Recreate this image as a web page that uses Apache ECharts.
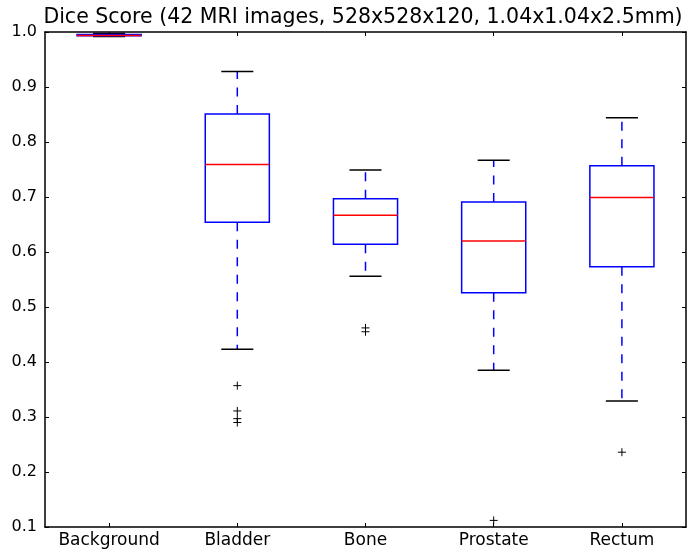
<!DOCTYPE html>
<html>
<head>
<meta charset="utf-8">
<script src="https://cdn.jsdelivr.net/npm/echarts@6/dist/echarts.min.js"></script>
<style>
  html, body { margin: 0; padding: 0; background: #fff; }
  #chart { width: 688px; height: 554px; }
</style>
</head>
<body>
<div id="chart"></div>
<script>
// Dice score distribution per structure
const categories = ['Background', 'Bladder', 'Bone', 'Prostate', 'Rectum'];
const whiskerLow  = [0.992,  0.423, 0.556, 0.385, 0.329];
const quartile1   = [0.993,  0.654, 0.614, 0.526, 0.573];
const medians     = [0.9935, 0.759, 0.667, 0.620, 0.699];
const quartile3   = [0.9955, 0.851, 0.697, 0.691, 0.757];
const whiskerHigh = [0.9975, 0.928, 0.749, 0.767, 0.844];
const outliers = [
  [],
  [0.357, 0.311, 0.297, 0.290],
  [0.462, 0.455],
  [0.112],
  [0.236]
];
const yMin = 0.1, yMax = 1.0, yStep = 0.1;

const boxData = categories.map((c, i) =>
  [i, whiskerLow[i], quartile1[i], medians[i], quartile3[i], whiskerHigh[i]]);
const outlierData = [];
outliers.forEach((vals, i) => vals.forEach(v => outlierData.push([i, v])));

const FONT = 'DejaVu Sans';
const BLUE = '#0000ff', RED = '#ff0000', BLACK = '#000000';

function renderBox(params, api) {
  const idx = api.value(0);
  const band = api.size([1, 0])[0];
  const w = band * 0.5;
  const pLow = api.coord([idx, api.value(1)]);
  const pQ1 = api.coord([idx, api.value(2)]);
  const pMed = api.coord([idx, api.value(3)]);
  const pQ3 = api.coord([idx, api.value(4)]);
  const pHigh = api.coord([idx, api.value(5)]);
  const xc = pQ1[0];
  const dashed = { stroke: BLUE, lineWidth: 1.5, lineDash: [9, 8.5], fill: null };
  return {
    type: 'group',
    children: [
      { type: 'line', shape: { x1: xc, y1: pQ1[1], x2: xc, y2: pLow[1] }, style: dashed },
      { type: 'line', shape: { x1: xc, y1: pQ3[1], x2: xc, y2: pHigh[1] }, style: dashed },
      { type: 'line', shape: { x1: xc - w / 4, y1: pLow[1], x2: xc + w / 4, y2: pLow[1] },
        style: { stroke: BLACK, lineWidth: 1.5 } },
      { type: 'line', shape: { x1: xc - w / 4, y1: pHigh[1], x2: xc + w / 4, y2: pHigh[1] },
        style: { stroke: BLACK, lineWidth: 1.5 } },
      { type: 'rect', shape: { x: xc - w / 2, y: pQ3[1], width: w, height: pQ1[1] - pQ3[1] },
        style: { fill: 'rgba(0,0,0,0)', stroke: BLUE, lineWidth: 1.5 } },
      { type: 'line', shape: { x1: xc - w / 2, y1: pMed[1], x2: xc + w / 2, y2: pMed[1] },
        style: { stroke: RED, lineWidth: 1.5 } }
    ]
  };
}

function renderPlus(params, api) {
  const p = api.coord([api.value(0), api.value(1)]);
  const r = 4;
  return {
    type: 'group',
    children: [
      { type: 'line', shape: { x1: p[0] - r, y1: p[1], x2: p[0] + r, y2: p[1] }, style: { stroke: BLACK, lineWidth: 1 } },
      { type: 'line', shape: { x1: p[0], y1: p[1] - r, x2: p[0], y2: p[1] + r }, style: { stroke: BLACK, lineWidth: 1 } }
    ]
  };
}

const axisLine = { show: true, lineStyle: { color: BLACK, width: 1.5 } };
const tickIn = { show: true, inside: true, length: 4, lineStyle: { color: BLACK, width: 1 } };

const chart = echarts.init(document.getElementById('chart'), null, { renderer: 'canvas' });
chart.setOption({
  animation: false,
  backgroundColor: '#ffffff',
  title: {
    text: 'Dice Score (42 MRI images, 528x528x120, 1.04x1.04x2.5mm)',
    left: 358,
    textAlign: 'center',
    top: 2,
    textStyle: { fontFamily: FONT, fontSize: 20.5, fontWeight: 'normal', color: BLACK }
  },
  grid: { left: 45, right: 2, top: 32, bottom: 27, containLabel: false },
  xAxis: [
    {
      type: 'category', data: categories, position: 'bottom', boundaryGap: true,
      axisLine: axisLine,
      axisTick: Object.assign({ alignWithLabel: true, interval: 0 }, tickIn),
      axisLabel: { fontFamily: FONT, fontSize: 17, color: BLACK, margin: 5,
                   interval: 0, hideOverlap: false },
      splitLine: { show: false }
    },
    {
      type: 'category', data: categories, position: 'top', boundaryGap: true,
      axisLine: axisLine,
      axisTick: Object.assign({ alignWithLabel: true, interval: 0 }, tickIn),
      axisLabel: { show: false },
      splitLine: { show: false }
    }
  ],
  yAxis: [
    {
      type: 'value', min: yMin, max: yMax, interval: yStep, position: 'left',
      axisLine: axisLine, axisTick: tickIn,
      axisLabel: { fontFamily: FONT, fontSize: 16, color: BLACK, margin: 8,
                   formatter: v => v.toFixed(1) },
      splitLine: { show: false }
    },
    {
      type: 'value', min: yMin, max: yMax, interval: yStep, position: 'right',
      axisLine: axisLine, axisTick: tickIn,
      axisLabel: { show: false },
      splitLine: { show: false }
    }
  ],
  series: [
    { type: 'custom', renderItem: renderBox, data: boxData, clip: false,
      encode: { x: 0, y: [1, 2, 3, 4, 5] } },
    { type: 'custom', renderItem: renderPlus, data: outlierData, clip: false,
      encode: { x: 0, y: 1 } }
  ]
});
</script>
</body>
</html>
